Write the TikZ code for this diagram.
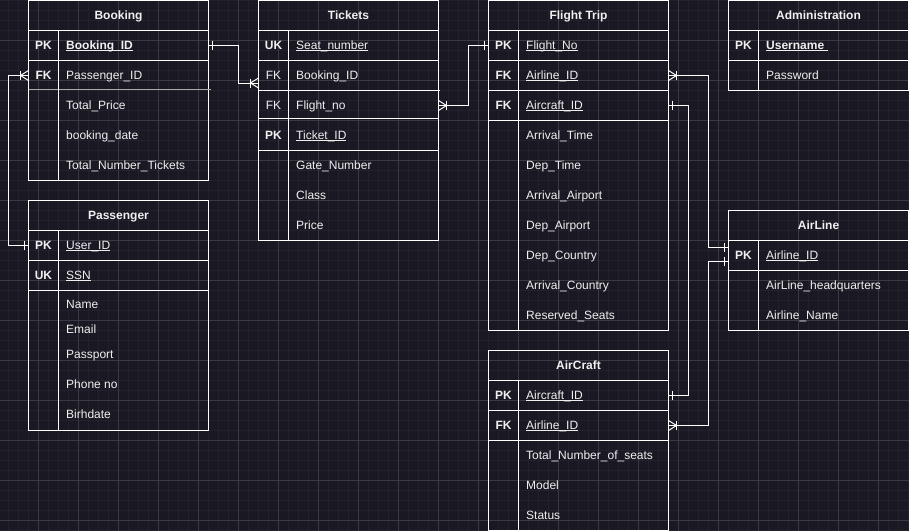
\documentclass[tikz,border=0pt]{standalone}
\usepackage{fontspec}
\setmainfont{Liberation Sans}
\definecolor{bgc}{HTML}{1A1822}
\definecolor{minorc}{HTML}{23212B}
\definecolor{majorc}{HTML}{3A3944}
\definecolor{txtc}{HTML}{F0F0F0}
\definecolor{grayline}{HTML}{A8A8A8}
\newcommand\erul[1]{\setbox0\hbox{#1}\rlap{\rule[-1.8pt]{\wd0}{0.9pt}}\box0}
\begin{document}
\begin{tikzpicture}[x=1pt,y=-1pt,
  tline/.style={draw=white,line width=1pt},
  conn/.style={draw=white,line width=1pt},
  rowbox/.style={minimum width=180pt,minimum height=30pt,inner sep=0pt,outer sep=0pt},
  hdr/.style={font=\fontsize{12}{14}\selectfont\bfseries,text=txtc,inner sep=0pt,anchor=base},
  keyt/.style={font=\fontsize{12}{14}\selectfont\bfseries,text=txtc,inner sep=0pt,anchor=base},
  keyr/.style={font=\fontsize{12}{14}\selectfont,text=txtc,inner sep=0pt,anchor=base},
  fld/.style={font=\fontsize{12}{14}\selectfont,text=txtc,inner sep=0pt,anchor=base west},
  erone/.pic={\draw[conn] (-4,-4.5) -- (-4,4.5);},
  ermany/.pic={\draw[conn] (-8,-4.5) -- (-8,4.5); \draw[conn] (0,-5) -- (-8,0) -- (0,5);},
]
\useasboundingbox (0,0) rectangle (909,531);
\fill[bgc] (0,0) rectangle (909,531);
\foreach \x in {8.5,18.5,...,908.5} \draw[minorc,line width=1pt] (\x,0) -- (\x,531);
\foreach \y in {0.5,10.5,...,530.5} \draw[minorc,line width=1pt] (0,\y) -- (909,\y);
\foreach \x in {38.5,78.5,...,878.5} \draw[majorc,line width=1pt] (\x,0) -- (\x,531);
\foreach \y in {40.5,80.5,...,520.5} \draw[majorc,line width=1pt] (0,\y) -- (909,\y);

% ---------------- Booking
\draw[tline] (28.5,0.5) rectangle (208.5,180.5);
\draw[tline] (28.5,30.5) -- (208.5,30.5);
\draw[tline] (28.5,60.5) -- (208.5,60.5);
\draw[grayline,line width=1pt] (28.5,89.5) -- (211,89.5);
\draw[tline] (58.5,30.5) -- (58.5,180.5);
\node[hdr] (booking) at (118.5,19.5) {Booking};
\node[rowbox] (bkpk) at (118.5,45.5) {};
\node[rowbox] (bkfk) at (118.5,75.5) {};
\node[keyt] (bkpkk) at (43.5,49.5) {PK};
\node[fld] (bkpkf) at (66,49.5) {\bfseries\erul{Booking\_ID}};
\node[keyt] (bkfkk) at (43.5,79.5) {FK};
\node[fld] (bkfkf) at (66,79.5) {Passenger\_ID};
\node[fld] (bka1) at (66,109.5) {Total\_Price};
\node[fld] (bka2) at (66,139.5) {booking\_date};
\node[fld] (bka3) at (66,169.5) {Total\_Number\_Tickets};

% ---------------- Tickets
\draw[tline] (258.5,0.5) rectangle (438.5,240.5);
\draw[tline] (258.5,30.5) -- (438.5,30.5);
\draw[tline] (258.5,60.5) -- (438.5,60.5);
\draw[tline] (258.5,90.5) -- (439.5,90.5);
\draw[tline] (258.5,118.5) -- (437.5,118.5);
\draw[tline] (258.5,150.5) -- (438.5,150.5);
\draw[tline] (288.5,30.5) -- (288.5,240.5);
\node[hdr] (tickets) at (348.5,19.5) {Tickets};
\node[rowbox] (tkuk) at (348.5,45.5) {};
\node[rowbox] (tkfk1) at (348.5,75.5) {};
\node[rowbox] (tkfk2) at (348.5,105.5) {};
\node[rowbox] (tkpk) at (348.5,135.5) {};
\node[keyt] (tkukk) at (273.5,49.5) {UK};
\node[fld] (tkukf) at (296,49.5) {\erul{Seat\_number}};
\node[keyr] (tkfk1k) at (273.5,79.5) {FK};
\node[fld] (tkfk1f) at (296,79.5) {Booking\_ID};
\node[keyr] (tkfk2k) at (273.5,109.5) {FK};
\node[fld] (tkfk2f) at (296,109.5) {Flight\_no};
\node[keyt] (tkpkk) at (273.5,139.5) {PK};
\node[fld] (tkpkf) at (296,139.5) {\erul{Ticket\_ID}};
\node[fld] (tka1) at (296,169.5) {Gate\_Number};
\node[fld] (tka2) at (296,199.5) {Class};
\node[fld] (tka3) at (296,229.5) {Price};

% ---------------- Flight Trip
\draw[tline] (488.5,0.5) rectangle (668.5,330.5);
\draw[tline] (488.5,30.5) -- (668.5,30.5);
\draw[tline] (488.5,60.5) -- (668.5,60.5);
\draw[tline] (488.5,90.5) -- (668.5,90.5);
\draw[tline] (488.5,120.5) -- (668.5,120.5);
\draw[tline] (518.5,30.5) -- (518.5,330.5);
\node[hdr] (flight) at (578.5,19.5) {Flight Trip};
\node[rowbox] (ftpk) at (578.5,45.5) {};
\node[rowbox] (ftfk1) at (578.5,75.5) {};
\node[rowbox] (ftfk2) at (578.5,105.5) {};
\node[keyt] (ftpkk) at (503.5,49.5) {PK};
\node[fld] (ftpkf) at (526,49.5) {\erul{Flight\_No}};
\node[keyt] (ftfk1k) at (503.5,79.5) {FK};
\node[fld] (ftfk1f) at (526,79.5) {\erul{Airline\_ID}};
\node[keyt] (ftfk2k) at (503.5,109.5) {FK};
\node[fld] (ftfk2f) at (526,109.5) {\erul{Aircraft\_ID}};
\node[fld] (fta1) at (526,139.5) {Arrival\_Time};
\node[fld] (fta2) at (526,169.5) {Dep\_Time};
\node[fld] (fta3) at (526,199.5) {Arrival\_Airport};
\node[fld] (fta4) at (526,229.5) {Dep\_Airport};
\node[fld] (fta5) at (526,259.5) {Dep\_Country};
\node[fld] (fta6) at (526,289.5) {Arrival\_Country};
\node[fld] (fta7) at (526,319.5) {Reserved\_Seats};

% ---------------- Administration
\draw[tline] (728.5,0.5) rectangle (908.5,90.5);
\draw[tline] (728.5,30.5) -- (908.5,30.5);
\draw[tline] (728.5,60.5) -- (908.5,60.5);
\draw[tline] (758.5,30.5) -- (758.5,90.5);
\node[hdr] (admin) at (818.5,19.5) {Administration};
\node[rowbox] (adpk) at (818.5,45.5) {};
\node[keyt] (adpkk) at (743.5,49.5) {PK};
\node[fld] (adpkf) at (766,49.5) {\bfseries\erul{Username\ }};
\node[fld] (ada1) at (766,79.5) {Password};

% ---------------- AirLine
\draw[tline] (728.5,210.5) rectangle (908.5,330.5);
\draw[tline] (728.5,240.5) -- (908.5,240.5);
\draw[tline] (728.5,270.5) -- (908.5,270.5);
\draw[tline] (758.5,240.5) -- (758.5,330.5);
\node[hdr] (airline) at (818.5,229.5) {AirLine};
\node[rowbox] (alpk) at (818.5,255.5) {};
\node[keyt] (alpkk) at (743.5,259.5) {PK};
\node[fld] (alpkf) at (766,259.5) {\erul{Airline\_ID}};
\node[fld] (ala1) at (766,289.5) {AirLine\_headquarters};
\node[fld] (ala2) at (766,319.5) {Airline\_Name};

% ---------------- Passenger
\draw[tline] (28.5,200.5) rectangle (208.5,430.5);
\draw[tline] (28.5,230.5) -- (208.5,230.5);
\draw[tline] (28.5,260.5) -- (208.5,260.5);
\draw[tline] (28.5,290.5) -- (208.5,290.5);
\draw[tline] (58.5,230.5) -- (58.5,430.5);
\node[hdr] (passenger) at (118.5,219) {Passenger};
\node[rowbox] (psgpk) at (118.5,245.5) {};
\node[rowbox] (psguk) at (118.5,275.5) {};
\node[keyt] (psgpkk) at (43.5,249) {PK};
\node[fld] (psgpkf) at (66,249) {\erul{User\_ID}};
\node[keyt] (psgukk) at (43.5,279) {UK};
\node[fld] (psgukf) at (66,279) {\erul{SSN}};
\node[fld] (psga1) at (66,308.5) {Name};
\node[fld] (psga2) at (66,333.5) {Email};
\node[fld] (psga3) at (66,358.5) {Passport};
\node[fld] (psga4) at (66,388.5) {Phone no};
\node[fld] (psga5) at (66,418.5) {Birhdate};

% ---------------- AirCraft
\draw[tline] (488.5,350.5) rectangle (668.5,530.5);
\draw[tline] (488.5,380.5) -- (668.5,380.5);
\draw[tline] (488.5,410.5) -- (668.5,410.5);
\draw[tline] (488.5,440.5) -- (668.5,440.5);
\draw[tline] (518.5,380.5) -- (518.5,530.5);
\node[hdr] (aircraft) at (578.5,369) {AirCraft};
\node[rowbox] (acpk) at (578.5,395.5) {};
\node[rowbox] (acfk) at (578.5,425.5) {};
\node[keyt] (acpkk) at (503.5,399) {PK};
\node[fld] (acpkf) at (526,399) {\erul{Aircraft\_ID}};
\node[keyt] (acfkk) at (503.5,429) {FK};
\node[fld] (acfkf) at (526,429) {\erul{Airline\_ID}};
\node[fld] (aca1) at (526,459) {Total\_Number\_of\_seats};
\node[fld] (aca2) at (526,489) {Model};
\node[fld] (aca3) at (526,519) {Status};

% ---------------- connectors
\draw[conn] (bkpk.east) -- ++(30,0) |- ([yshift=-7.5pt]tkfk1.west);
\pic[rotate=180] at (bkpk.east) {erone};
\pic at ([yshift=-7.5pt]tkfk1.west) {ermany};

\draw[conn] (bkfk.west) -- ++(-20,0) |- (psgpk.west);
\pic at (bkfk.west) {ermany};
\pic at (psgpk.west) {erone};

\draw[conn] (tkfk2.east) -- ++(30,0) |- (ftpk.west);
\pic[rotate=180] at (tkfk2.east) {ermany};
\pic at (ftpk.west) {erone};

\draw[conn] (ftfk1.east) -- ++(40,0) |- ([yshift=8pt]alpk.west);
\pic[rotate=180] at (ftfk1.east) {ermany};
\pic at ([yshift=8pt]alpk.west) {erone};

\draw[conn] (ftfk2.east) -- ++(20,0) |- (acpk.east);
\pic[rotate=180] at (ftfk2.east) {erone};
\pic[rotate=180] at (acpk.east) {erone};

\draw[conn] (acfk.east) -- ++(40,0) |- ([yshift=-6pt]alpk.west);
\pic[rotate=180] at (acfk.east) {ermany};
\pic at ([yshift=-6pt]alpk.west) {erone};
\end{tikzpicture}
\end{document}
